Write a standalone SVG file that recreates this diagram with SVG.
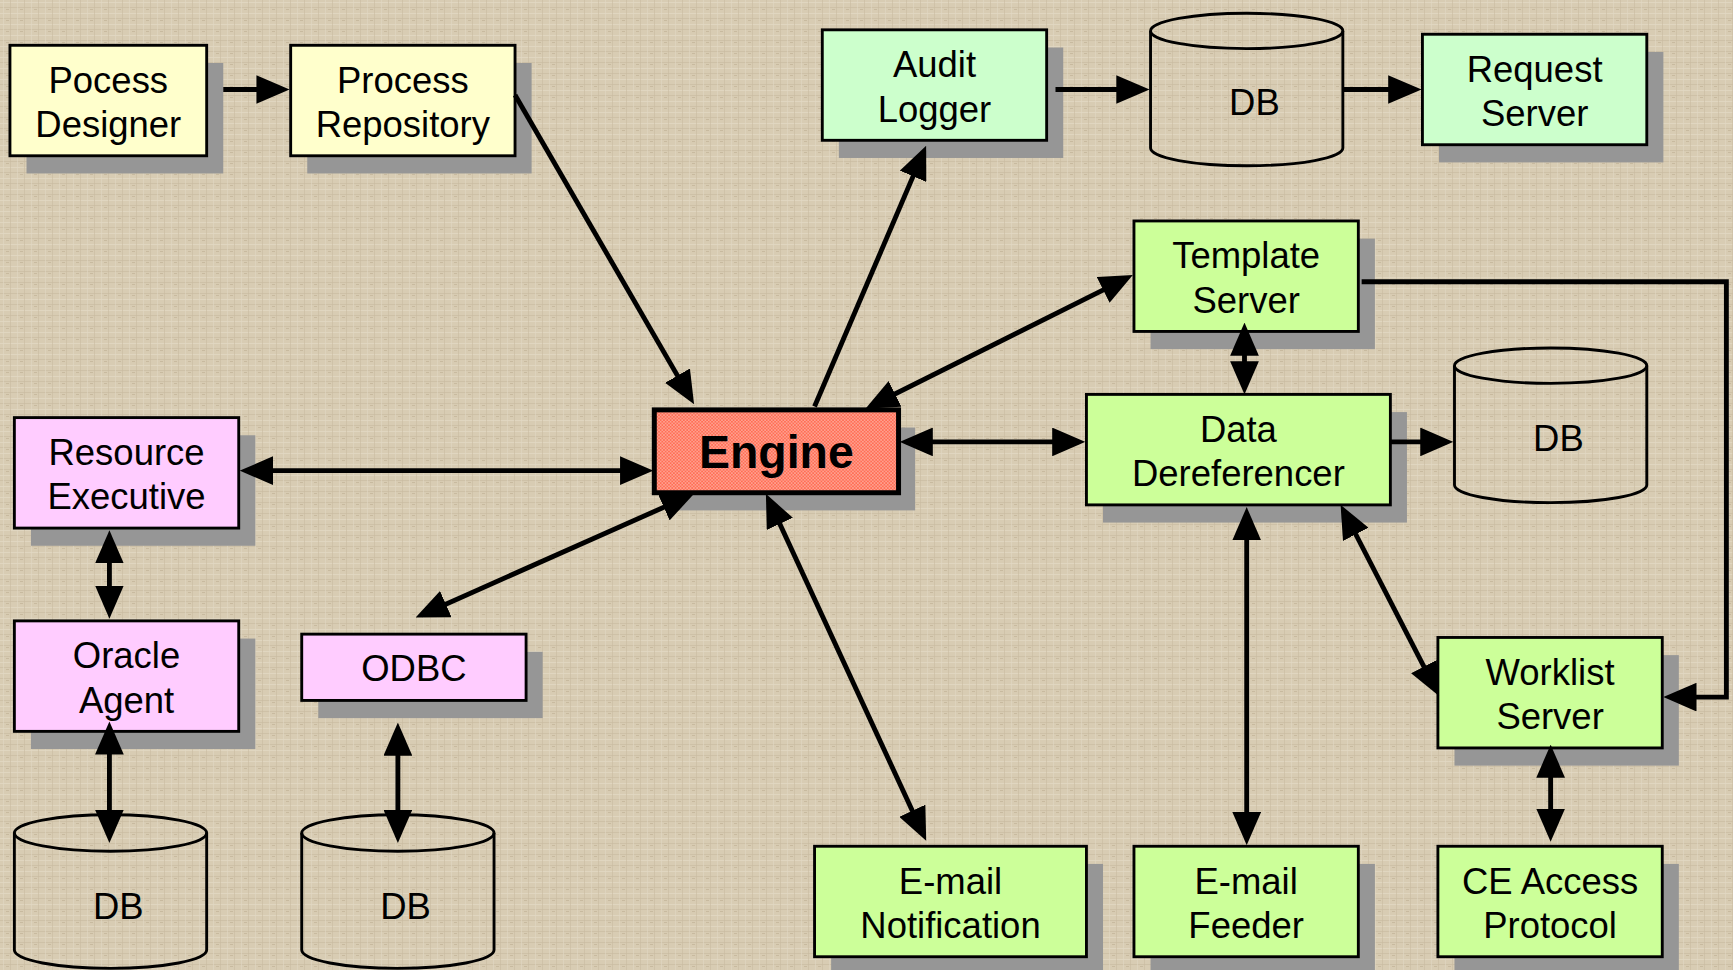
<svg xmlns="http://www.w3.org/2000/svg" width="1733" height="970" viewBox="0 0 1733 970">
<style>
.bx{stroke:#000;stroke-width:2.6}
.sh{fill:#969696}
.yel{fill:#ffffcc}
.mint{fill:#ccffcc}
.lime{fill:#ccff99}
.pink{fill:#ffccff}
.cyl{fill:none;stroke:#000;stroke-width:2.6}
text{font-family:"Liberation Sans",Arial,sans-serif;font-size:33px;fill:#000;text-anchor:middle}
.eng{font-weight:bold;font-size:42px}
.cn{fill:none;stroke:#000;stroke-width:4.4}
.a2{marker-start:url(#ah);marker-end:url(#ah)}
.a1{marker-end:url(#ah)}
</style>
<defs>
<pattern id="tex" width="14" height="11" patternUnits="userSpaceOnUse">
<rect width="14" height="11" fill="#d8ccb3"/>
<rect x="0" y="2" width="14" height="1" fill="#e4dac7" opacity="0.7"/>
<rect x="0" y="7" width="14" height="1" fill="#cbbda3" opacity="0.7"/>
<rect x="3" y="0" width="1" height="11" fill="#e1d7c3" opacity="0.6"/>
<rect x="10" y="0" width="1" height="11" fill="#c9bba0" opacity="0.6"/>
<rect x="6" y="9" width="3" height="1" fill="#c2b397" opacity="0.7"/>
</pattern>
<pattern id="dots" width="3" height="3" patternUnits="userSpaceOnUse">
<rect width="3" height="3" fill="#ff6e56"/>
<circle cx="0.75" cy="0.75" r="0.6" fill="#ffe0d6"/>
<circle cx="2.25" cy="2.25" r="0.6" fill="#ffe0d6"/>
</pattern>
<marker id="ah" markerUnits="userSpaceOnUse" markerWidth="30" markerHeight="26" refX="24" refY="13" orient="auto-start-reverse" viewBox="0 0 30 26">
<path d="M0,0 L30,13 L0,26 z" fill="#000"/>
</marker>
</defs>
<rect width="1733" height="970" fill="url(#tex)"/>
<g transform="scale(1.10523,1.10478)">
<g id="nodes">
<g id="pocess-designer"><rect class="sh" x="24" y="57" width="178" height="100"/><rect class="bx yel" x="9" y="41" width="178" height="100"/><text x="98" y="84">Pocess</text><text x="98" y="124">Designer</text></g>
<g id="process-repository"><rect class="sh" x="278" y="57" width="203" height="100"/><rect class="bx yel" x="263" y="41" width="203" height="100"/><text x="364.5" y="84">Process</text><text x="364.5" y="124">Repository</text></g>
<g id="audit-logger"><rect class="sh" x="759" y="43" width="203" height="100"/><rect class="bx mint" x="744" y="27" width="203" height="100"/><text x="845.5" y="70">Audit</text><text x="845.5" y="110">Logger</text></g>
<g id="db-top"><path class="cyl" d="M1041,28 V134 A87,16 0 0 0 1215,134 V28"/><ellipse class="cyl" cx="1128" cy="28" rx="87" ry="16"/><text x="1135" y="104">DB</text></g>
<g id="request-server"><rect class="sh" x="1302" y="47" width="203" height="100"/><rect class="bx mint" x="1287" y="31" width="203" height="100"/><text x="1388.5" y="74">Request</text><text x="1388.5" y="114">Server</text></g>
<g id="template-server"><rect class="sh" x="1041" y="216" width="203" height="100"/><rect class="bx lime" x="1026" y="200" width="203" height="100"/><text x="1127.5" y="243">Template</text><text x="1127.5" y="283">Server</text></g>
<g id="data-dereferencer"><rect class="sh" x="998" y="373" width="275" height="100"/><rect class="bx lime" x="983" y="357" width="275" height="100"/><text x="1120.5" y="400">Data</text><text x="1120.5" y="440">Dereferencer</text></g>
<g id="db-right"><path class="cyl" d="M1316,331 V439 A87,16 0 0 0 1490,439 V331"/><ellipse class="cyl" cx="1403" cy="331" rx="87" ry="16"/><text x="1410" y="408">DB</text></g>
<g id="engine"><rect class="sh" x="607" y="387" width="221" height="75"/><rect x="592" y="371" width="221" height="75" fill="url(#dots)" stroke="#000" stroke-width="4.5"/><text class="eng" x="702.5" y="424">Engine</text></g>
<g id="resource-executive"><rect class="sh" x="28" y="394" width="203" height="100"/><rect class="bx pink" x="13" y="378" width="203" height="100"/><text x="114.5" y="421">Resource</text><text x="114.5" y="461">Executive</text></g>
<g id="oracle-agent"><rect class="sh" x="28" y="578" width="203" height="100"/><rect class="bx pink" x="13" y="562" width="203" height="100"/><text x="114.5" y="605">Oracle</text><text x="114.5" y="645">Agent</text></g>
<g id="odbc"><rect class="sh" x="288" y="590" width="203" height="60"/><rect class="bx pink" x="273" y="574" width="203" height="60"/><text x="374.5" y="616">ODBC</text></g>
<g id="db-bottom-left"><path class="cyl" d="M13,754 V860 A87,16.5 0 0 0 187,860 V754"/><ellipse class="cyl" cx="100" cy="754" rx="87" ry="16.5"/><text x="107" y="832">DB</text></g>
<g id="db-bottom-mid"><path class="cyl" d="M273,754 V860 A87,16.5 0 0 0 447,860 V754"/><ellipse class="cyl" cx="360" cy="754" rx="87" ry="16.5"/><text x="367" y="832">DB</text></g>
<g id="email-notification"><rect class="sh" x="752" y="782" width="246" height="100"/><rect class="bx lime" x="737" y="766" width="246" height="100"/><text x="860" y="809">E-mail</text><text x="860" y="849">Notification</text></g>
<g id="email-feeder"><rect class="sh" x="1041" y="782" width="203" height="100"/><rect class="bx lime" x="1026" y="766" width="203" height="100"/><text x="1127.5" y="809">E-mail</text><text x="1127.5" y="849">Feeder</text></g>
<g id="worklist-server"><rect class="sh" x="1316" y="593" width="203" height="100"/><rect class="bx lime" x="1301" y="577" width="203" height="100"/><text x="1402.5" y="620">Worklist</text><text x="1402.5" y="660">Server</text></g>
<g id="ce-access-protocol"><rect class="sh" x="1316" y="782" width="203" height="100"/><rect class="bx lime" x="1301" y="766" width="203" height="100"/><text x="1402.5" y="809">CE Access</text><text x="1402.5" y="849">Protocol</text></g>
</g>
<g id="connectors">
<path class="cn a1" d="M202,81 H256"/>
<path class="cn a1" d="M466,86 L625,360.8"/>
<path class="cn a1" d="M737,368 L835.6,137.5"/>
<path class="cn a1" d="M955,81 H1034"/>
<path class="cn a1" d="M1215,81 H1280"/>
<path class="cn a2" d="M788.4,367.3 L1019.6,251.7"/>
<path class="cn a2" d="M1126,298 V351"/>
<path class="cn a2" d="M820,400 H976"/>
<path class="cn a1" d="M1258,400 H1309"/>
<path class="cn a1" d="M1232,255 H1562 V631 H1511"/>
<path class="cn a2" d="M223,426 H585"/>
<path class="cn a2" d="M99,486 V554"/>
<path class="cn a2" d="M99,659 V757"/>
<path class="cn a2" d="M622.5,449.4 L381.5,556.6"/>
<path class="cn a2" d="M360,660 V757"/>
<path class="cn a2" d="M695.5,452.4 L835.5,755.6"/>
<path class="cn a2" d="M1128,465 V759"/>
<path class="cn a2" d="M1215.7,462.3 L1299.3,624.7"/>
<path class="cn a2" d="M1403,680 V756"/>
</g>
</g>
</svg>
